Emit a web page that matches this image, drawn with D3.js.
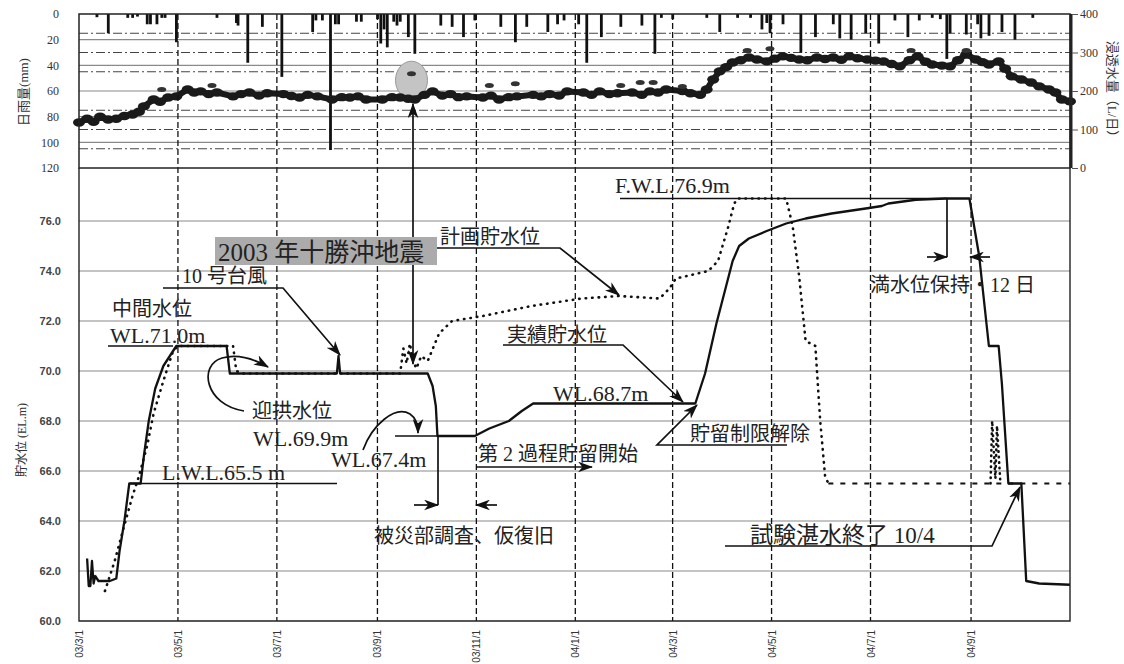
<!DOCTYPE html>
<meta charset="utf-8">
<script src="https://d3js.org/d3.v7.min.js"></script>
<style>
  body { margin: 0; background: #fff; }
  text { font-family: "Liberation Serif", "Noto Sans CJK JP", serif; fill: #222; }
  .tick text { font-family: "Liberation Sans", "Noto Sans CJK JP", sans-serif; fill: #333; }
</style>
<div id="chart"></div>
<script>
// daily rainfall (mm)
var rainfall = [
  ["2003-03-12", 2.5], ["2003-03-19", 15], ["2003-03-31", 3], ["2003-04-03", 3], ["2003-04-06", 2],
  ["2003-04-12", 8], ["2003-04-14", 8], ["2003-04-18", 8], ["2003-04-21", 3], ["2003-04-23", 3],
  ["2003-04-30", 22], ["2003-05-25", 3], ["2003-06-06", 7], ["2003-06-07", 9], ["2003-06-13", 38],
  ["2003-06-22", 10], ["2003-07-04", 49], ["2003-07-23", 14], ["2003-07-25", 5], ["2003-07-29", 5],
  ["2003-08-03", 106], ["2003-08-06", 8], ["2003-08-08", 8], ["2003-08-19", 6], ["2003-08-22", 6],
  ["2003-09-01", 4], ["2003-09-03", 23], ["2003-09-05", 12], ["2003-09-07", 26], ["2003-09-11", 6],
  ["2003-09-13", 9], ["2003-09-15", 6], ["2003-09-20", 18], ["2003-09-24", 31], ["2003-10-10", 9],
  ["2003-10-17", 10], ["2003-10-24", 18], ["2003-10-31", 5], ["2003-11-16", 10], ["2003-11-25", 22],
  ["2003-12-02", 10], ["2003-12-15", 14], ["2003-12-21", 8], ["2003-12-25", 5], ["2004-01-03", 8],
  ["2004-01-08", 38], ["2004-01-17", 18], ["2004-01-29", 10], ["2004-02-11", 9], ["2004-02-19", 31],
  ["2004-02-23", 3], ["2004-03-01", 4], ["2004-03-22", 3], ["2004-03-30", 14], ["2004-04-10", 3],
  ["2004-04-18", 3], ["2004-04-25", 12], ["2004-04-28", 7], ["2004-04-30", 15], ["2004-05-08", 8],
  ["2004-05-19", 30], ["2004-05-28", 18], ["2004-06-08", 8], ["2004-06-12", 19], ["2004-06-19", 20],
  ["2004-06-28", 15], ["2004-07-06", 23], ["2004-07-16", 5], ["2004-07-24", 18], ["2004-07-31", 5],
  ["2004-08-08", 3], ["2004-08-13", 4], ["2004-08-17", 35], ["2004-08-19", 15], ["2004-08-29", 16],
  ["2004-09-05", 8], ["2004-09-07", 19], ["2004-09-12", 17], ["2004-09-20", 14], ["2004-09-28", 20],
  ["2004-10-09", 3]
];

// seepage (L/day)
var seepage = [
  ["2003-03-01", 118], ["2003-03-06", 128], ["2003-03-10", 120], ["2003-03-14", 133], ["2003-03-19", 126],
  ["2003-03-24", 128], ["2003-03-29", 135], ["2003-04-03", 139], ["2003-04-07", 146], ["2003-04-10", 160],
  ["2003-04-16", 178], ["2003-04-20", 172], ["2003-04-25", 183], ["2003-04-30", 186], ["2003-05-07", 204],
  ["2003-05-11", 196], ["2003-05-15", 199], ["2003-05-20", 192], ["2003-05-25", 196], ["2003-06-04", 186],
  ["2003-06-09", 192], ["2003-06-14", 196], ["2003-06-20", 188], ["2003-06-25", 194], ["2003-07-05", 192],
  ["2003-07-10", 187], ["2003-07-15", 183], ["2003-07-20", 190], ["2003-07-26", 186], ["2003-08-04", 178],
  ["2003-08-10", 184], ["2003-08-15", 183], ["2003-08-20", 186], ["2003-08-25", 178], ["2003-09-04", 178],
  ["2003-09-10", 184], ["2003-09-15", 183], ["2003-09-20", 180], ["2003-09-24", 178], ["2003-09-30", 190],
  ["2003-10-05", 199], ["2003-10-11", 188], ["2003-10-16", 192], ["2003-10-21", 184], ["2003-10-26", 186],
  ["2003-11-05", 183], ["2003-11-10", 188], ["2003-11-15", 178], ["2003-11-21", 184], ["2003-11-26", 186],
  ["2003-12-06", 190], ["2003-12-11", 186], ["2003-12-16", 192], ["2003-12-22", 188], ["2003-12-27", 199],
  ["2004-01-06", 196], ["2004-01-11", 190], ["2004-01-16", 199], ["2004-01-22", 192], ["2004-01-27", 194],
  ["2004-02-05", 196], ["2004-02-11", 190], ["2004-02-16", 199], ["2004-02-21", 196], ["2004-02-26", 204],
  ["2004-03-07", 200], ["2004-03-12", 194], ["2004-03-18", 190], ["2004-03-22", 204], ["2004-03-26", 230],
  ["2004-03-30", 251], ["2004-04-03", 262], ["2004-04-07", 274], ["2004-04-12", 280], ["2004-04-17", 287],
  ["2004-04-22", 282], ["2004-04-28", 277], ["2004-05-03", 284], ["2004-05-08", 290], ["2004-05-13", 286],
  ["2004-05-18", 282], ["2004-05-23", 280], ["2004-05-29", 287], ["2004-06-03", 283], ["2004-06-08", 287],
  ["2004-06-13", 281], ["2004-06-18", 290], ["2004-06-23", 285], ["2004-06-29", 282], ["2004-07-04", 279],
  ["2004-07-09", 277], ["2004-07-14", 270], ["2004-07-19", 264], ["2004-07-25", 280], ["2004-07-30", 290],
  ["2004-08-04", 276], ["2004-08-08", 269], ["2004-08-14", 266], ["2004-08-19", 264], ["2004-08-24", 280],
  ["2004-08-29", 295], ["2004-09-04", 282], ["2004-09-08", 275], ["2004-09-12", 269], ["2004-09-18", 277],
  ["2004-09-22", 258], ["2004-09-26", 238], ["2004-10-02", 230], ["2004-10-08", 222], ["2004-10-13", 212],
  ["2004-10-19", 204], ["2004-10-23", 196], ["2004-10-27", 178], ["2004-11-01", 173]
];

// scattered seepage readings above the band
var seepageOutliers = [
  ["2003-04-21", 204], ["2003-05-22", 214], ["2003-09-22", 245], ["2003-11-09", 214], ["2003-11-25", 219],
  ["2004-01-29", 214], ["2004-02-10", 222], ["2004-02-18", 222], ["2004-03-07", 212], ["2004-04-16", 305],
  ["2004-04-30", 310], ["2004-07-26", 305], ["2004-08-29", 305]
];

// actual reservoir level (EL.m)
var levelActual = [
  ["2003-03-06", 62.5], ["2003-03-07", 61.4], ["2003-03-08", 61.4], ["2003-03-09", 62.4], ["2003-03-10", 61.5],
  ["2003-03-11", 61.8], ["2003-03-13", 61.6], ["2003-03-20", 61.6], ["2003-03-24", 61.7], ["2003-03-26", 62.8],
  ["2003-03-29", 64.0], ["2003-04-01", 65.5], ["2003-04-08", 65.5], ["2003-04-10", 66.6], ["2003-04-13", 68.0],
  ["2003-04-17", 69.3], ["2003-04-22", 70.2], ["2003-04-30", 71.0], ["2003-05-31", 71.0], ["2003-06-02", 69.9],
  ["2003-08-07", 69.9], ["2003-08-08", 70.6], ["2003-08-09", 69.9], ["2003-10-02", 69.9], ["2003-10-05", 69.4],
  ["2003-10-07", 68.6], ["2003-10-08", 67.4], ["2003-10-31", 67.4], ["2003-11-09", 67.7], ["2003-11-21", 68.0],
  ["2003-11-29", 68.4], ["2003-12-06", 68.7], ["2004-03-15", 68.7], ["2004-03-21", 69.9], ["2004-03-28", 71.9],
  ["2004-04-03", 73.4], ["2004-04-07", 74.4], ["2004-04-11", 75.0], ["2004-04-17", 75.3], ["2004-04-28", 75.6],
  ["2004-05-10", 75.9], ["2004-05-22", 76.1], ["2004-06-07", 76.3], ["2004-06-28", 76.5], ["2004-07-08", 76.6],
  ["2004-07-12", 76.7], ["2004-07-29", 76.85], ["2004-08-16", 76.9], ["2004-08-31", 76.9], ["2004-09-06", 74.6],
  ["2004-09-12", 71.0], ["2004-09-18", 71.0], ["2004-09-20", 69.5], ["2004-09-22", 67.5], ["2004-09-24", 65.5],
  ["2004-10-02", 65.5], ["2004-10-05", 61.6], ["2004-10-13", 61.5], ["2004-11-01", 61.45]
];

// planned reservoir level (EL.m)
var levelPlanned = [
  ["2003-03-17", 61.2], ["2003-03-23", 62.4], ["2003-03-28", 63.6], ["2003-04-03", 65.0], ["2003-04-07", 65.8],
  ["2003-04-12", 67.0], ["2003-04-16", 68.3], ["2003-04-22", 69.6], ["2003-04-28", 70.8], ["2003-05-01", 71.0],
  ["2003-06-04", 71.0], ["2003-06-06", 70.0], ["2003-06-10", 69.9], ["2003-09-15", 69.9], ["2003-09-17", 70.9],
  ["2003-09-19", 70.3], ["2003-09-21", 71.1], ["2003-09-23", 70.4], ["2003-09-25", 70.1], ["2003-09-28", 70.6],
  ["2003-10-02", 70.4], ["2003-10-09", 71.5], ["2003-10-17", 72.0], ["2003-11-05", 72.2], ["2003-12-05", 72.6],
  ["2004-01-05", 72.9], ["2004-01-28", 73.0], ["2004-02-22", 72.9], ["2004-02-28", 73.3], ["2004-03-03", 73.7],
  ["2004-03-23", 74.0], ["2004-03-29", 74.4], ["2004-04-04", 75.7], ["2004-04-08", 76.7], ["2004-04-10", 76.9],
  ["2004-05-10", 76.9], ["2004-05-14", 75.8], ["2004-05-18", 73.8], ["2004-05-22", 71.2], ["2004-05-28", 71.0],
  ["2004-05-31", 68.0], ["2004-06-03", 65.8], ["2004-06-05", 65.5]
];
var levelPlannedTail = [["2004-06-05", 65.5], ["2004-11-01", 65.5]];
var levelPlannedSpikes = [
  ["2004-09-13", 65.5], ["2004-09-14", 68.0], ["2004-09-16", 65.7], ["2004-09-17", 67.8],
  ["2004-09-19", 65.6], ["2004-09-20", 65.5]
];

var dateTicks = ["2003-03-01", "2003-05-01", "2003-07-01", "2003-09-01", "2003-11-01",
  "2004-01-01", "2004-03-01", "2004-05-01", "2004-07-01", "2004-09-01"];
var rainTicks = [0, 20, 40, 60, 80, 100, 120];
var seepTicks = [0, 100, 200, 300, 400];
var seepGrid = [50, 100, 150, 250, 300, 350];
var levelTicks = [60, 62, 64, 66, 68, 70, 72, 74, 76];

var parse = d3.timeParse("%Y-%m-%d");

var svg = d3.select("#chart").append("svg")
    .attr("width", 1124).attr("height", 664);

var x = d3.scaleTime()
    .domain([parse("2003-03-01"), parse("2004-11-01")])
    .range([79, 1070]);
var yRain = d3.scaleLinear().domain([0, 120]).range([14, 168]);
var ySeep = d3.scaleLinear().domain([0, 400]).range([168, 14]);
var yLevel = d3.scaleLinear().domain([60, 78.08]).range([621, 169]);

var defs = svg.append("defs");
defs.append("marker")
    .attr("id", "arr")
    .attr("viewBox", "0 0 14 10")
    .attr("refX", 13).attr("refY", 5)
    .attr("markerWidth", 15).attr("markerHeight", 11)
    .attr("markerUnits", "userSpaceOnUse")
    .attr("orient", "auto-start-reverse")
  .append("path")
    .attr("d", "M0,0 L14,5 L0,10 L4,5 Z")
    .attr("fill", "#111");

// ---------- top panel grid ----------
var topG = svg.append("g");
topG.selectAll("line.rg")
  .data(rainTicks.slice(1, -1))
  .enter().append("line")
    .attr("x1", 79).attr("x2", 1070)
    .attr("y1", d => yRain(d)).attr("y2", d => yRain(d))
    .attr("stroke", "#8a8a8a").attr("stroke-width", 1.1);
topG.selectAll("line.sg")
  .data(seepGrid)
  .enter().append("line")
    .attr("x1", 79).attr("x2", 1070)
    .attr("y1", d => ySeep(d)).attr("y2", d => ySeep(d))
    .attr("stroke", "#444").attr("stroke-width", 1)
    .attr("stroke-dasharray", "9,3,2,3");

// ---------- bottom panel grid ----------
var botG = svg.append("g");
botG.selectAll("line")
  .data(levelTicks.slice(1))
  .enter().append("line")
    .attr("x1", 79).attr("x2", 1070)
    .attr("y1", d => yLevel(d)).attr("y2", d => yLevel(d))
    .attr("stroke", "#8a8a8a").attr("stroke-width", 1.1);

// vertical dashed month lines
svg.append("g").selectAll("line")
  .data(dateTicks.slice(1))
  .enter().append("line")
    .attr("x1", d => x(parse(d))).attr("x2", d => x(parse(d)))
    .attr("y1", 14).attr("y2", 621)
    .attr("stroke", "#111").attr("stroke-width", 1.3)
    .attr("stroke-dasharray", "6,3");

// ---------- rainfall bars ----------
topG.selectAll("rect.rain")
  .data(rainfall)
  .enter().append("rect")
    .attr("x", d => x(parse(d[0])) - 1.3)
    .attr("y", yRain(0))
    .attr("width", 2.8)
    .attr("height", d => yRain(d[1]) - yRain(0))
    .attr("fill", "#111");

// ---------- seepage ----------
topG.append("ellipse")
    .attr("cx", x(parse("2003-09-22"))).attr("cy", ySeep(228))
    .attr("rx", 16).attr("ry", 19)
    .attr("fill", "#c4c4c4").attr("stroke", "#999").attr("stroke-width", 1);

topG.append("path")
    .datum(seepage)
    .attr("d", d3.line().x(d => x(parse(d[0]))).y(d => ySeep(d[1])))
    .attr("fill", "none").attr("stroke", "#1a1a1a")
    .attr("stroke-width", 6).attr("stroke-linejoin", "round");
topG.selectAll("ellipse.s")
  .data(seepage)
  .enter().append("ellipse")
    .attr("cx", d => x(parse(d[0]))).attr("cy", d => ySeep(d[1]))
    .attr("rx", 6).attr("ry", 4.2)
    .attr("fill", "#1a1a1a");
topG.selectAll("ellipse.o")
  .data(seepageOutliers)
  .enter().append("ellipse")
    .attr("cx", d => x(parse(d[0]))).attr("cy", d => ySeep(d[1]))
    .attr("rx", 4.5).attr("ry", 2.5)
    .attr("fill", "#333");

// ---------- frames and axes ----------
svg.append("rect")
    .attr("x", 79).attr("y", 14).attr("width", 991).attr("height", 154)
    .attr("fill", "none").attr("stroke", "#222").attr("stroke-width", 1.5);
svg.append("line")
    .attr("x1", 1071).attr("x2", 1071).attr("y1", 14).attr("y2", 168)
    .attr("stroke", "#222").attr("stroke-width", 3);
svg.append("path")
    .attr("d", "M79,168 V621 H1070 V168")
    .attr("fill", "none").attr("stroke", "#222").attr("stroke-width", 1.4);

var axRain = svg.append("g")
    .attr("transform", "translate(79,0)")
    .call(d3.axisLeft(yRain).tickValues(rainTicks).tickSize(0).tickPadding(20));
axRain.select(".domain").remove();
axRain.selectAll("text").style("font-family", "Liberation Serif").style("font-size", "12px");

var axSeep = svg.append("g")
    .attr("transform", "translate(1072,0)")
    .call(d3.axisRight(ySeep).tickValues(seepTicks).tickSize(6).tickPadding(2));
axSeep.select(".domain").remove();
axSeep.selectAll("line").attr("stroke", "#555");
axSeep.selectAll("text").style("font-family", "Liberation Serif").style("font-size", "12px");

var axLevel = svg.append("g")
    .attr("transform", "translate(79,0)")
    .call(d3.axisLeft(yLevel).tickValues(levelTicks).tickFormat(d3.format(".1f")).tickSize(0).tickPadding(18));
axLevel.select(".domain").remove();
axLevel.selectAll("text").style("font-size", "11px").style("font-weight", "bold").style("fill", "#444");

var axDate = svg.append("g")
    .attr("transform", "translate(0,621)")
    .call(d3.axisBottom(x).tickValues(dateTicks.map(parse))
      .tickFormat(d3.timeFormat("%y/%-m/%-d")).tickSize(0));
axDate.select(".domain").remove();
axDate.selectAll("text")
    .attr("transform", "rotate(-90)")
    .attr("x", -9).attr("y", 0).attr("dy", "0.35em")
    .style("text-anchor", "end")
    .style("font-size", "10px");

svg.append("text")
    .attr("transform", "translate(28,92) rotate(-90)")
    .attr("text-anchor", "middle").style("font-size", "13px").style("fill", "#333")
    .text("日雨量(mm)");
svg.append("text")
    .attr("transform", "translate(1108,92) rotate(90)")
    .attr("text-anchor", "middle").style("font-size", "13px").style("fill", "#333")
    .text("浸透水量（L/日）");
svg.append("text")
    .attr("transform", "translate(26,440) rotate(-90)")
    .attr("text-anchor", "middle").style("font-size", "12px").style("fill", "#333")
    .text("貯水位 (EL.m)");

// ---------- reservoir levels ----------
var lineL = d3.line().x(d => x(parse(d[0]))).y(d => yLevel(d[1]));

botG.append("path").datum(levelPlanned).attr("d", lineL)
    .attr("fill", "none").attr("stroke", "#111").attr("stroke-width", 2.6)
    .attr("stroke-linecap", "round").attr("stroke-dasharray", "0.5,6");
botG.append("path").datum(levelPlannedSpikes).attr("d", lineL)
    .attr("fill", "none").attr("stroke", "#111").attr("stroke-width", 2.6)
    .attr("stroke-linecap", "round").attr("stroke-dasharray", "0.5,5");
botG.append("path").datum(levelPlannedTail).attr("d", lineL)
    .attr("fill", "none").attr("stroke", "#111").attr("stroke-width", 1.8)
    .attr("stroke-dasharray", "5,7");
botG.append("path").datum(levelActual).attr("d", lineL)
    .attr("fill", "none").attr("stroke", "#111").attr("stroke-width", 2.3)
    .attr("stroke-linejoin", "round");

// ---------- annotations ----------
var ann = svg.append("g");
function seg(d, arrow, start) {
  var p = ann.append("path").attr("d", d)
      .attr("fill", "none").attr("stroke", "#111").attr("stroke-width", 1.7);
  if (arrow) p.attr("marker-end", "url(#arr)");
  if (start) p.attr("marker-start", "url(#arr)");
  return p;
}
function label(t, px, py, size) {
  return ann.append("text").attr("x", px).attr("y", py)
      .style("font-size", (size || 20) + "px").text(t);
}

// earthquake
seg("M413,104 V364", true, true);
ann.append("rect").attr("x", 215).attr("y", 237).attr("width", 222).attr("height", 28)
    .attr("fill", "#ababab");
label("2003 年十勝沖地震", 218, 261, 25);
seg("M437,248 H560 L619,295", true);
label("計画貯水位", 440, 244);

// typhoon
label("10 号台風", 182, 283);
seg("M163,288 H283 L340,355", true);

// intermediate level
label("中間水位", 112, 316);
label("WL.71.0m", 110, 343, 22);
seg("M108," + yLevel(71.0) + " H173");

// flood-season level
label("迎拱水位", 252, 418);
seg("M244,411 C205,405 198,365 222,358 C240,353 256,360 268,367", true);
label("WL.69.9m", 253, 446, 22);

// 67.4 m
seg("M395," + yLevel(67.4) + " H438");
label("WL.67.4m", 331, 467, 22);
seg("M363,450 C372,425 395,405 410,414 C416,418 418,426 418,433", true);

// LWL
label("L.W.L.65.5 m", 162, 480, 22);
seg("M130," + yLevel(65.5) + " H337");

// investigation
seg("M438,437 V505");
seg("M414,505 H438", true);
seg("M497,505 H476", true);
label("被災部調査、仮復旧", 374, 543);

// second stage
label("第 2 過程貯留開始", 478, 461);
seg("M476,467 H592", true);

// actual level
label("実績貯水位", 507, 342);
seg("M503,345 H623 L683,402", true);
label("WL.68.7m", 553, 401, 22);

label("貯留制限解除", 690, 441);
seg("M787,445 H657 L697,405", true);

// FWL
label("F.W.L.76.9m", 615, 193, 22);
seg("M620," + yLevel(76.9) + " H947");

// full level kept
seg("M947," + yLevel(76.9) + " V257");
seg("M927,257 H947", true);
seg("M990,257 H970", true);
label("満水位保持・12 日", 870, 292);

// end of test
label("試験湛水終了 10/4", 750, 543, 23);
seg("M725,546 H992 L1020,487", true);
</script>
